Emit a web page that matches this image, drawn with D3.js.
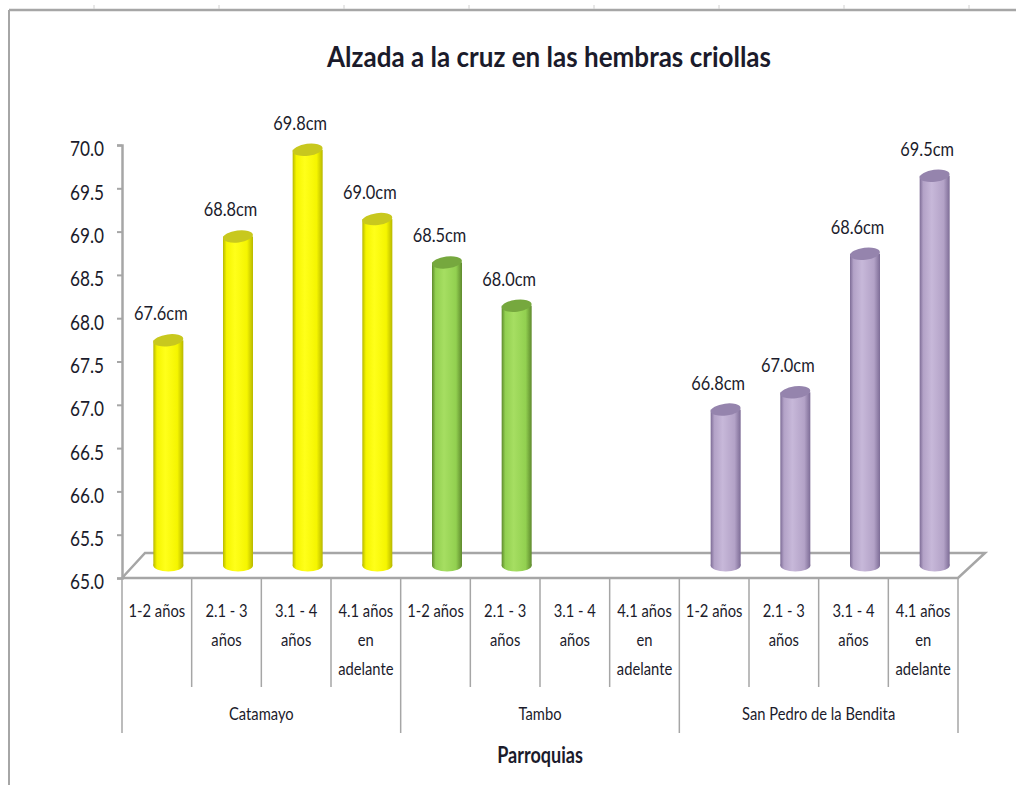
<!DOCTYPE html>
<html><head><meta charset="utf-8">
<script src="https://cdn.jsdelivr.net/npm/d3@7"></script>
<style>body{margin:0;background:#fff}svg{display:block}text{font-family:"Liberation Sans Narrow",Lato,"DejaVu Sans",sans-serif}</style>
</head><body>
<svg id="c" width="1016" height="785"></svg>
<script>
// ---- data ----
const title = "Alzada a la cruz en las hembras criollas";
const axisTitle = "Parroquias";
const groups = ["Catamayo", "Tambo", "San Pedro de la Bendita"];
const ageClasses = ["1-2 años", "2.1 - 3 años", "3.1 - 4 años", "4.1 años en adelante"];
const ageLabelLines = [["1-2 años"], ["2.1 - 3", "años"], ["3.1 - 4", "años"], ["4.1 años", "en", "adelante"]];
const catamayo = [67.6, 68.8, 69.8, 69.0];
const tambo = [68.5, 68.0, null, null];
const sanPedro = [66.8, 67.0, 68.6, 69.5];
const yTicks = [65.0, 65.5, 66.0, 66.5, 67.0, 67.5, 68.0, 68.5, 69.0, 69.5, 70.0];
const seriesByGroup = [catamayo, tambo, sanPedro];

// ---- styles ----
const palette = [
  {light: "#ffff1a", mid: "#f5f500", dark: "#b8b800", top: "#c8c81e"},
  {light: "#a6de62", mid: "#92d050", dark: "#5f8a2e", top: "#76a83e"},
  {light: "#c7b8d9", mid: "#b3a2c7", dark: "#7d6c96", top: "#9584ad"}
];
const axisColor = "#a6a6a6";
const textColor = "#1b1b2b";
const SX = 0.82; // horizontal condensing of text

const svg = d3.select("#c");
const W = 1016, H = 785;
const left = 122, right = 958, baseY = 578, topY = 145;
const depthX = 23, depthY = 25;

const keys = [];
const rows = [];
groups.forEach((g, gi) => ageClasses.forEach((a, ai) => {
  const k = g + "|" + a;
  keys.push(k);
  rows.push({key: k, group: g, gi, ai, value: seriesByGroup[gi][ai]});
}));

const x = d3.scaleBand().domain(keys).range([left, right]).paddingInner(0).paddingOuter(0);
const y = d3.scaleLinear().domain([65, 70]).range([baseY, topY]);

function txt(parent, tx, ty, str, size, weight, anchor, sx) {
  return parent.append("text")
    .attr("transform", `translate(${tx},${ty}) scale(${sx},1)`)
    .attr("text-anchor", anchor)
    .attr("font-size", size)
    .attr("font-weight", weight)
    .attr("fill", textColor)
    .text(str);
}

// frame
svg.append("line").attr("x1", 9).attr("x2", W).attr("y1", 10).attr("y2", 10).attr("stroke", "#a6a6a6").attr("stroke-width", 2.5);
svg.append("line").attr("x1", 9).attr("x2", 9).attr("y1", 10).attr("y2", H).attr("stroke", "#a6a6a6").attr("stroke-width", 2);
[94, 219, 344, 469, 594, 719, 844, 969].forEach(px => svg.append("line").attr("x1", px).attr("x2", px).attr("y1", 5).attr("y2", 9).attr("stroke", "#d0d0d0").attr("stroke-width", 1));

// title
txt(svg, 549, 67, title, 28, "bold", "middle", 0.93);

// floor
svg.append("path")
  .attr("d", `M${left},${baseY} L${left + depthX},${baseY - depthY} L${right + depthX + 4},${baseY - depthY} L${right},${baseY} Z`)
  .attr("fill", "none").attr("stroke", axisColor).attr("stroke-width", 2.5).attr("stroke-linejoin", "miter");

// gradients
const defs = svg.append("defs");
palette.forEach((p, i) => {
  const g = defs.append("linearGradient").attr("id", "body" + i).attr("x1", 0).attr("x2", 1).attr("y1", 0).attr("y2", 0);
  g.append("stop").attr("offset", "0%").attr("stop-color", p.dark);
  g.append("stop").attr("offset", "12%").attr("stop-color", p.mid);
  g.append("stop").attr("offset", "40%").attr("stop-color", p.light);
  g.append("stop").attr("offset", "80%").attr("stop-color", p.mid);
  g.append("stop").attr("offset", "100%").attr("stop-color", p.dark);
});

// bars (cylinders)
const barW = 30, ry = 6;
const data = rows.filter(r => r.value != null);
const bars = svg.append("g").selectAll("g").data(data).join("g");
const cx = d => x(d.key) + x.bandwidth() / 2 + depthX / 2;
const yb = v => y(v) - depthY / 2;
bars.append("rect")
  .attr("x", d => cx(d) - barW / 2).attr("width", barW)
  .attr("y", d => yb(d.value)).attr("height", d => yb(65) - yb(d.value))
  .attr("fill", d => `url(#body${d.gi})`);
bars.append("ellipse")
  .attr("cx", cx).attr("cy", yb(65)).attr("rx", barW / 2).attr("ry", ry)
  .attr("fill", d => `url(#body${d.gi})`);
bars.append("ellipse")
  .attr("cx", cx).attr("cy", d => yb(d.value)).attr("rx", barW / 2).attr("ry", ry)
  .attr("transform", d => `rotate(-7,${cx(d)},${yb(d.value)})`)
  .attr("fill", d => palette[d.gi].top);

// data labels
bars.each(function(d) {
  txt(d3.select(this), x(d.key) + x.bandwidth() / 2 + 4, yb(d.value) - 20, d.value.toFixed(1) + "cm", 20, "normal", "middle", SX);
});

// y axis
const yAxisG = svg.append("g").attr("transform", `translate(${left},0)`)
  .call(d3.axisLeft(y).tickValues(yTicks).tickSize(5).tickPadding(14).tickFormat(d3.format(".1f")));
yAxisG.select(".domain").attr("stroke", axisColor).attr("stroke-width", 2.5);
yAxisG.selectAll(".tick line").attr("stroke", axisColor).attr("stroke-width", 2);
yAxisG.selectAll(".tick text").each(function(d) {
  const t = d3.select(this);
  t.attr("font-size", 21).attr("fill", textColor).attr("dy", "0.38em")
   .attr("x", null).attr("transform", `translate(-18,3) scale(${SX},1)`).attr("text-anchor", "end");
});

// x axis (multi-level)
const xg = svg.append("g");
keys.forEach((k, i) => {
  const isGroupStart = i % ageClasses.length === 0;
  xg.append("line").attr("x1", x(k)).attr("x2", x(k)).attr("y1", baseY).attr("y2", isGroupStart ? 733 : 687)
    .attr("stroke", axisColor).attr("stroke-width", 1.5);
});
xg.append("line").attr("x1", right).attr("x2", right).attr("y1", baseY).attr("y2", 733).attr("stroke", axisColor).attr("stroke-width", 1.5);
rows.forEach(r => {
  const lines = ageLabelLines[r.ai];
  lines.forEach((ln, li) => txt(xg, x(r.key) + x.bandwidth() / 2, 617 + li * 29, ln, 18, "normal", "middle", SX));
});
groups.forEach((g, gi) => {
  const first = x(g + "|" + ageClasses[0]);
  const last = x(g + "|" + ageClasses[ageClasses.length - 1]) + x.bandwidth();
  txt(xg, (first + last) / 2, 720, g, 18, "normal", "middle", SX);
});

// axis title
txt(svg, 540, 763, axisTitle, 22, "bold", "middle", SX);
</script>
</body></html>
